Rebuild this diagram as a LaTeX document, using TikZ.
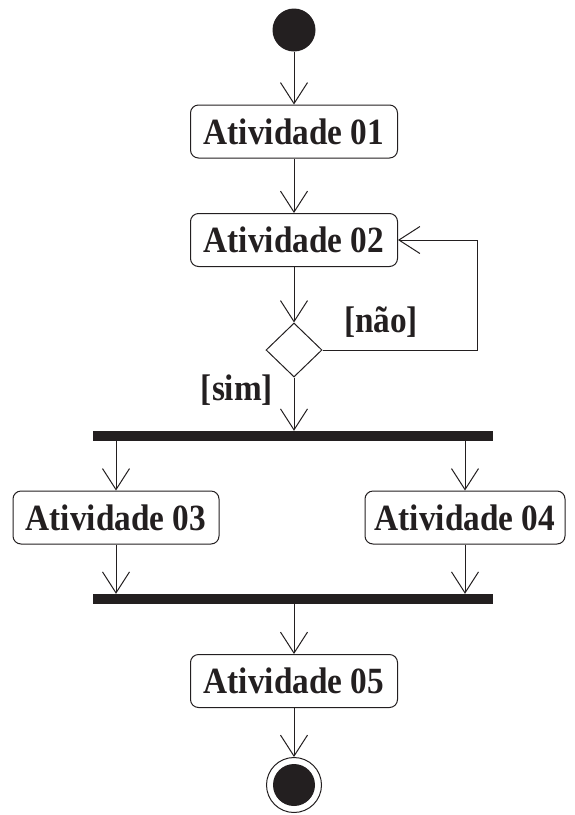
\documentclass[tikz,border=0pt]{standalone}
\usepackage{fontspec}
\setmainfont[FakeStretch=0.9]{Liberation Serif}
\usetikzlibrary{arrows.meta,shapes.geometric}
\definecolor{ink}{HTML}{231F20}
\begin{document}
\begin{tikzpicture}[x=1pt,y=-1pt,
  every node/.style={text=ink},
  act/.style={draw=ink, line width=1pt, rounded corners=8pt, minimum height=53pt, inner sep=0pt,
    font=\fontsize{37}{42}\selectfont\bfseries},
  lbl/.style={font=\fontsize{37}{42}\selectfont\bfseries, inner sep=0pt},
  bar/.style={fill=ink, minimum width=400pt, minimum height=10pt, inner sep=0pt},
  arr/.style={draw=ink, line width=1pt, -{Straight Barb[length=21pt,width=27pt,line width=1pt]}},
  ln/.style={draw=ink, line width=1pt}]
\useasboundingbox (0,0) rectangle (575,815);
\node[circle, fill=ink, minimum size=43pt, inner sep=0pt] (start) at (294,30) {};
\node[act, minimum width=207pt] (a1) at (294,131.5) {Atividade 01};
\node[act, minimum width=207pt] (a2) at (294,240) {Atividade 02};
\node[diamond, draw=ink, line width=1pt, minimum width=56pt, minimum height=54pt, inner sep=0pt] (dec) at (294,350) {};
\node[lbl] (nao) at (381,322) {[não]};
\node[lbl] (sim) at (237,390) {[sim]};
\node[bar] (fork) at (293,436) {};
\node[act, minimum width=206pt] (a3) at (116,517.5) {Atividade 03};
\node[act, minimum width=200pt] (a4) at (465,517.5) {Atividade 04};
\node[bar] (join) at (293,599) {};
\node[act, minimum width=207pt] (a5) at (294,681) {Atividade 05};
\node[circle, draw=ink, line width=1pt, minimum size=55pt, inner sep=0pt] (end) at (294,785) {};
\node[circle, fill=ink, minimum size=42pt, inner sep=0pt] (endin) at (end.center) {};
\draw[arr] (start) -- (a1);
\draw[arr] (a1) -- (a2);
\draw[arr] (a2) -- (dec);
\draw[arr] (dec.east) -- ++(155,0) |- (a2.east);
\draw[arr] (dec.south) -- (dec.south |- fork.north);
\draw[arr] (fork.south -| a3.north) -- (a3.north);
\draw[arr] (fork.south -| a4.north) -- (a4.north);
\draw[arr] (a3.south) -- (a3.south |- join.north);
\draw[arr] (a4.south) -- (a4.south |- join.north);
\draw[arr] (join.south -| a5.north) -- (a5.north);
\draw[arr] (a5) -- (end);
\end{tikzpicture}
\end{document}
